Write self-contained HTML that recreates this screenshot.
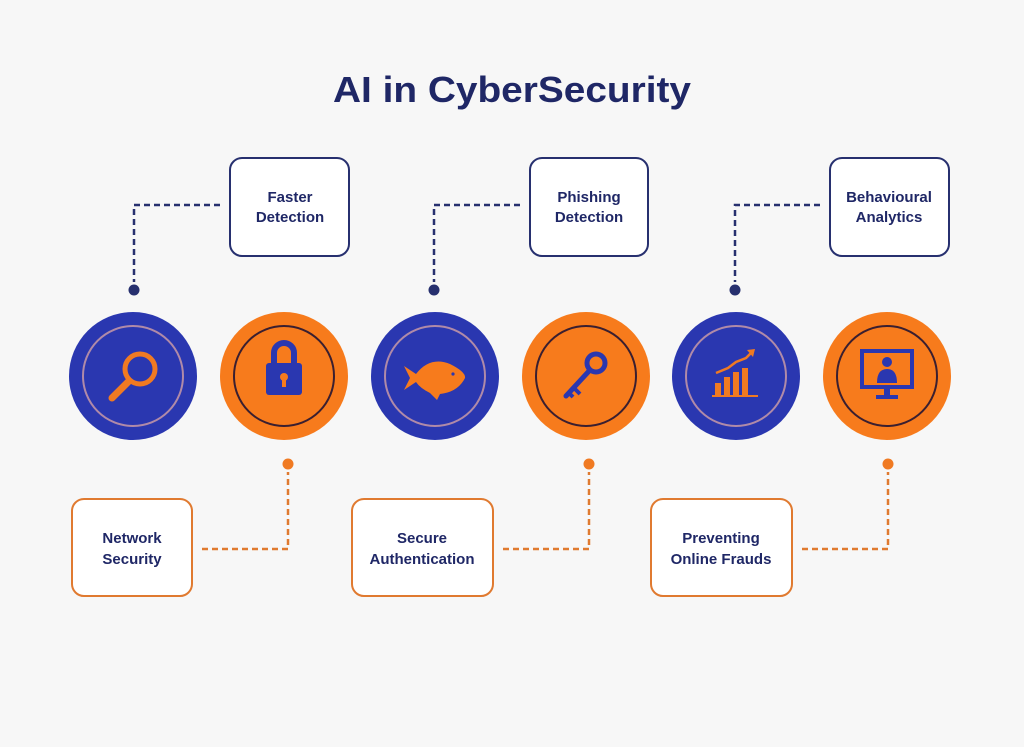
<!DOCTYPE html>
<html><head><meta charset="utf-8"><style>
html,body{margin:0;padding:0;background:#f7f7f7;}
svg{display:block;}
text{font-family:"Liberation Sans",sans-serif;font-weight:bold;}
</style></head><body>
<svg width="1024" height="747" viewBox="0 0 1024 747" xmlns="http://www.w3.org/2000/svg">
<rect width="1024" height="747" fill="#f7f7f7"/>
<text x="512" y="102" text-anchor="middle" font-size="36" fill="#1f2766" textLength="358" lengthAdjust="spacingAndGlyphs">AI in CyberSecurity</text>

<!-- top boxes -->
<g fill="#fff" stroke="#27306f" stroke-width="2">
<rect x="230" y="158" width="119" height="98" rx="12"/>
<rect x="530" y="158" width="118" height="98" rx="12"/>
<rect x="830" y="158" width="119" height="98" rx="12"/>
</g>
<g font-size="15" fill="#1f2766" text-anchor="middle">
<text x="290" y="202">Faster</text><text x="290" y="222">Detection</text>
<text x="589" y="202">Phishing</text><text x="589" y="222">Detection</text>
<text x="889" y="202">Behavioural</text><text x="889" y="222">Analytics</text>
</g>
<g fill="none" stroke="#27306f" stroke-width="2.5" stroke-dasharray="6 4">
<path d="M220 205 H134 V282"/>
<path d="M520 205 H434 V282"/>
<path d="M820 205 H735 V282"/>
</g>
<g fill="#27306f"><circle cx="134" cy="290" r="5.5"/><circle cx="434" cy="290" r="5.5"/><circle cx="735" cy="290" r="5.5"/></g>

<!-- bottom boxes -->
<g fill="#fff" stroke="#e07a30" stroke-width="2">
<rect x="72" y="499" width="120" height="97" rx="12"/>
<rect x="352" y="499" width="141" height="97" rx="12"/>
<rect x="651" y="499" width="141" height="97" rx="12"/>
</g>
<g font-size="15" fill="#1f2766" text-anchor="middle">
<text x="132" y="543">Network</text><text x="132" y="564">Security</text>
<text x="422" y="543">Secure</text><text x="422" y="564">Authentication</text>
<text x="721" y="543">Preventing</text><text x="721" y="564">Online Frauds</text>
</g>
<g fill="none" stroke="#e07a30" stroke-width="2.5" stroke-dasharray="6 4">
<path d="M202 549 H288 V472"/>
<path d="M503 549 H589 V472"/>
<path d="M802 549 H888 V472"/>
</g>
<g fill="#f07a22"><circle cx="288" cy="464" r="5.5"/><circle cx="589" cy="464" r="5.5"/><circle cx="888" cy="464" r="5.5"/></g>

<!-- circles -->
<g>
<circle cx="133" cy="376" r="64" fill="#2a37b0"/><circle cx="133" cy="376" r="50" fill="none" stroke="#b08aa8" stroke-width="2"/>
<circle cx="284" cy="376" r="64" fill="#f77b1c"/><circle cx="284" cy="376" r="50" fill="none" stroke="#3a1f30" stroke-width="2"/>
<circle cx="435" cy="376" r="64" fill="#2a37b0"/><circle cx="435" cy="376" r="50" fill="none" stroke="#b08aa8" stroke-width="2"/>
<circle cx="586" cy="376" r="64" fill="#f77b1c"/><circle cx="586" cy="376" r="50" fill="none" stroke="#3a1f30" stroke-width="2"/>
<circle cx="736" cy="376" r="64" fill="#2a37b0"/><circle cx="736" cy="376" r="50" fill="none" stroke="#b08aa8" stroke-width="2"/>
<circle cx="887" cy="376" r="64" fill="#f77b1c"/><circle cx="887" cy="376" r="50" fill="none" stroke="#3a1f30" stroke-width="2"/>
</g>

<!-- magnifier -->
<circle cx="140" cy="369" r="15" fill="none" stroke="#f07a22" stroke-width="5"/>
<line x1="129" y1="381" x2="112" y2="398" stroke="#f07a22" stroke-width="7" stroke-linecap="round"/>
<!-- lock -->
<path d="M274 364 V353 a10 10 0 0 1 20 0 V364" fill="none" stroke="#2a37b0" stroke-width="6"/>
<rect x="266" y="363" width="36" height="32" rx="3" fill="#2a37b0"/>
<circle cx="284" cy="377" r="4" fill="#f77b1c"/><rect x="282" y="378" width="4" height="9" fill="#f77b1c"/>
<!-- fish -->
<path d="M404 366 L416 374 Q430 356 450 364 Q466 372 465 378 Q458 392 440 394 L437 400 L430 393 Q420 388 416 382 L404 390 L410 378 Z" fill="#f77b1c"/>
<circle cx="453" cy="374" r="1.6" fill="#2a37b0"/>
<!-- key -->
<circle cx="596" cy="363" r="9" fill="none" stroke="#2a37b0" stroke-width="5"/>
<line x1="590" y1="370" x2="566" y2="396" stroke="#2a37b0" stroke-width="5" stroke-linecap="round"/>
<line x1="574" y1="388" x2="580" y2="394" stroke="#2a37b0" stroke-width="4"/>
<line x1="569" y1="393" x2="573" y2="397" stroke="#2a37b0" stroke-width="4"/>
<!-- chart -->
<g fill="#f07a22">
<rect x="715" y="383" width="6" height="12"/><rect x="724" y="377" width="6" height="18"/><rect x="733" y="372" width="6" height="23"/><rect x="742" y="368" width="6" height="27"/>
<rect x="712" y="395" width="46" height="2"/>
</g>
<path d="M716 373 L728 368 L736 362 L746 358 L752 352" fill="none" stroke="#f07a22" stroke-width="2.5"/>
<path d="M747 350 L755 349 L753 357 Z" fill="#f07a22"/>
<!-- monitor -->
<rect x="862" y="351" width="50" height="36" fill="none" stroke="#2a37b0" stroke-width="4"/>
<rect x="884" y="389" width="6" height="6" fill="#2a37b0"/><rect x="876" y="395" width="22" height="4" fill="#2a37b0"/>
<circle cx="887" cy="362" r="5" fill="#2a37b0"/>
<path d="M877 383 Q877 369 887 369 Q897 369 897 383 Z" fill="#2a37b0"/>
</svg>
</body></html>
